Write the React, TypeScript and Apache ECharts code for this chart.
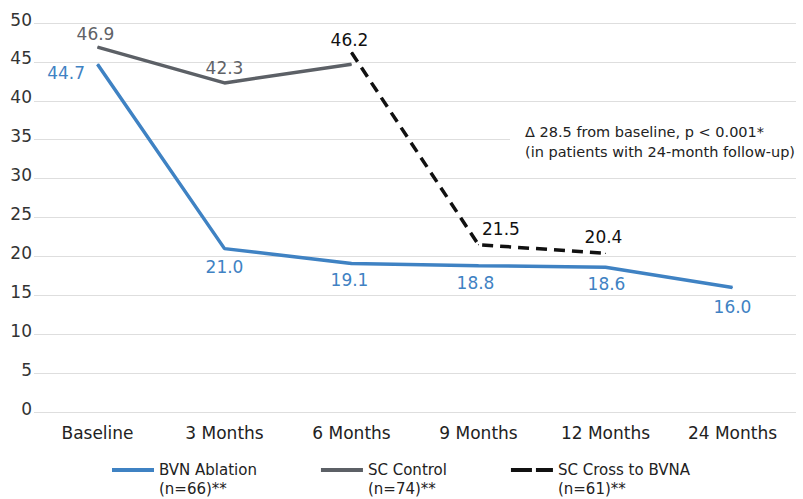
import React, { useEffect, useRef } from "react";
import * as echarts from "echarts";

const categories = ["Baseline", "3 Months", "6 Months", "9 Months", "12 Months", "24 Months"];
const bvnAblation = [44.7, 21.0, 19.1, 18.8, 18.6, 16.0];
const scControl = [46.9, 42.3, 44.7, null, null, null];
const scCross = [null, null, 46.2, 21.5, 20.4, null];
const seriesNames = ["BVN Ablation", "SC Control", "SC Cross to BVNA"];
const seriesCounts = ["(n=66)**", "(n=74)**", "(n=61)**"];
const yTicks = { min: 0, max: 50, interval: 5 };
const noteLines = ["Δ 28.5 from baseline, p < 0.001*", "(in patients with 24-month follow-up)"];

const BLUE = "#3f82c3";
const GRAY = "#5c6066";
const BLACK = "#111111";
const FONT = "'DejaVu Sans', sans-serif";

export default function App() {
  const ref = useRef<HTMLDivElement>(null);
  useEffect(() => {
    if (!ref.current) return;
    const chart = echarts.init(ref.current, null, { renderer: "svg" });

    const fmt = (p: any) => Number(p.value).toFixed(1);
    const baseLabel = { show: true, fontFamily: FONT, fontSize: 17, formatter: fmt };

    const blueData = bvnAblation.map((v, i) => {
      if (i === 0) {
        return { value: v, label: { position: "left", distance: 12, offset: [0, 9] } };
      }
      const dist = i === 1 ? 9 : i === 5 ? 10 : 8;
      const off = i === 3 ? [-3, 0] : i === 4 ? [1, 0] : i === 2 ? [-2, 0] : [0, 0];
      return { value: v, label: { position: "bottom", distance: dist, offset: off } };
    });
    const grayData = scControl.map((v, i) => {
      if (v === null) return v;
      if (i === 2) return { value: v, label: { show: false } };
      return { value: v, label: { position: "top", distance: i === 1 ? 6 : 4, offset: i === 0 ? [-2, 0] : [0, 0] } };
    });
    const crossData = scCross.map((v, i) => {
      if (v === null) return v;
      if (i === 3) return { value: v, label: { position: "right", distance: 3, offset: [0, -16] } };
      if (i === 4) return { value: v, label: { position: "top", distance: 7, offset: [-2, 0] } };
      return { value: v, label: { position: "top", distance: 4, offset: [-2, 0] } };
    });

    const legendFont = { fontFamily: FONT, fontSize: 15, color: "#222" };

    chart.setOption({
      animation: false,
      grid: { left: 34, right: 7, top: 23, bottom: 87, containLabel: false },
      xAxis: {
        type: "category",
        data: categories,
        boundaryGap: true,
        axisLine: { show: false },
        axisTick: { show: false },
        axisLabel: { color: "#222", fontFamily: FONT, fontSize: 17, margin: 12 },
      },
      yAxis: {
        type: "value",
        min: yTicks.min,
        max: yTicks.max,
        interval: yTicks.interval,
        axisLine: { show: false },
        axisTick: { show: false },
        axisLabel: {
          color: "#333",
          fontFamily: FONT,
          fontSize: 17,
          margin: 2,
          verticalAlign: "bottom",
          lineHeight: 7,
        },
        splitLine: { lineStyle: { color: "#dedede", width: 1 } },
      },
      legend: {
        left: 107,
        top: 439,
        itemWidth: 42,
        itemHeight: 4,
        itemGap: 64,
        data: [
          { name: seriesNames[0], icon: "rect" },
          { name: seriesNames[1], icon: "rect" },
          { name: seriesNames[2], icon: "path://M0,0H21V4H0Z M25,0H42V4H25Z" },
        ],
        formatter: (name: string) =>
          "{e| }\n{n|" + name + "}\n{c|" + seriesCounts[seriesNames.indexOf(name)] + "}",
        textStyle: {
          ...legendFont,
          rich: {
            e: { ...legendFont, lineHeight: 16 },
            n: { ...legendFont, lineHeight: 21 },
            c: { ...legendFont, lineHeight: 16 },
          },
        },
      },
      series: [
        {
          name: seriesNames[0],
          type: "line",
          data: blueData,
          symbol: "circle",
          symbolSize: 1,
          lineStyle: { color: BLUE, width: 3.5 },
          itemStyle: { color: BLUE },
          label: { ...baseLabel, color: BLUE },
          z: 3,
        },
        {
          name: seriesNames[1],
          type: "line",
          data: grayData,
          symbol: "circle",
          symbolSize: 1,
          lineStyle: { color: GRAY, width: 3.5 },
          itemStyle: { color: GRAY },
          label: { ...baseLabel, color: "#5f6267" },
          z: 2,
        },
        {
          name: seriesNames[2],
          type: "line",
          data: crossData,
          symbol: "circle",
          symbolSize: 1,
          lineStyle: { color: BLACK, width: 3.5, type: [11, 7] },
          itemStyle: { color: BLACK },
          label: { ...baseLabel, color: BLACK },
          z: 4,
        },
      ],
      graphic: [
        { type: "rect", left: 510, top: 124, shape: { width: 293, height: 40 }, style: { fill: "#ffffff" }, z: 10 },
        {
          type: "text",
          left: 525,
          top: 122,
          z: 11,
          style: {
            text: noteLines.join("\n"),
            fill: "#222",
            font: "14.5px 'DejaVu Sans', sans-serif",
            lineHeight: 20,
          },
        },
      ],
    });
    return () => chart.dispose();
  }, []);
  return <div ref={ref} style={{ width: 803, height: 499, position: "absolute", left: 0, top: 0 }} />;
}
